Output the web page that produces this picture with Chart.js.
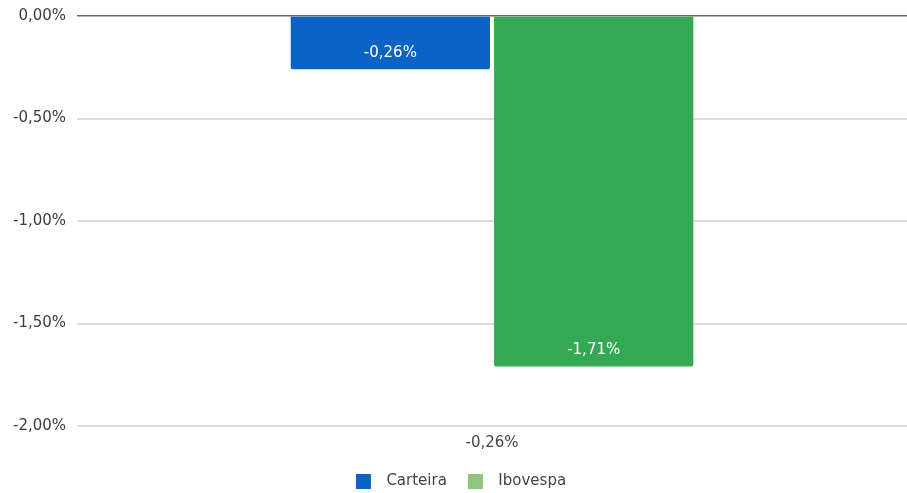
<!DOCTYPE html>
<html>
<head>
<meta charset="utf-8">
<script src="https://cdn.jsdelivr.net/npm/chart.js@4/dist/chart.umd.min.js"></script>
<style>
  body { margin: 0; background: #fff; }
  #wrap { width: 907px; height: 493px; }
</style>
</head>
<body>
<div id="wrap"><canvas id="chart"></canvas></div>
<script>
const categories = ['-0,26%'];
const carteira = [-0.26];
const ibovespa = [-1.71];
const yTicks = [0, -0.5, -1, -1.5, -2];

const fmt = v => v.toFixed(2).replace('.', ',') + '%';
const FONT = '"DejaVu Sans", Arial, sans-serif';

// legend marker: square with some empty room to the left and right
function legendMarker(color) {
  const c = document.createElement('canvas');
  c.width = 36;
  c.height = 15;
  const g = c.getContext('2d');
  g.fillStyle = color;
  g.fillRect(13, 0, 15, 15);
  return c;
}

// labels inside bar ends, white
const barLabels = {
  id: 'barLabels',
  afterDatasetsDraw(chart) {
    const ctx = chart.ctx;
    ctx.save();
    ctx.font = '15px ' + FONT;
    ctx.fillStyle = '#ffffff';
    ctx.textAlign = 'center';
    ctx.textBaseline = 'middle';
    chart.data.datasets.forEach((ds, i) => {
      chart.getDatasetMeta(i).data.forEach((bar, j) => {
        ctx.fillText(fmt(ds.data[j]), bar.x, bar.y - 16);
      });
    });
    ctx.restore();
  }
};

const ctx = document.getElementById('chart').getContext('2d');
new Chart(ctx, {
  type: 'bar',
  data: {
    labels: categories,
    datasets: [
      {
        label: 'Carteira',
        data: carteira,
        backgroundColor: '#0b63c5',
        legendColor: '#0b63c5',
        borderRadius: 2,
        borderSkipped: 'start'
      },
      {
        label: 'Ibovespa',
        data: ibovespa,
        backgroundColor: '#34a853',
        legendColor: '#93c47d',
        borderRadius: 2,
        borderSkipped: 'start'
      }
    ]
  },
  options: {
    responsive: true,
    maintainAspectRatio: false,
    animation: false,
    layout: { padding: { top: 0, right: 0, left: 2, bottom: -6 } },
    datasets: {
      bar: { barPercentage: 0.98, categoryPercentage: 0.49 }
    },
    scales: {
      x: {
        grid: { display: false },
        border: { display: false },
        afterFit: axis => { axis.height += 14; },
        ticks: {
          color: '#444',
          font: { family: FONT, size: 15 },
          padding: 0
        }
      },
      y: {
        min: -2,
        max: 0,
        afterBuildTicks: axis => { axis.ticks = yTicks.map(v => ({ value: v })); },
        afterFit: axis => { axis.paddingTop = 16; },
        border: { display: false },
        grid: {
          drawTicks: false,
          color: c => c.tick.value === 0 ? '#666' : '#dcdcdc',
          lineWidth: c => c.tick.value === 0 ? 1.5 : 2
        },
        ticks: {
          color: '#3c3c3c',
          padding: 11,
          font: { family: FONT, size: 15 },
          callback: v => fmt(v)
        }
      }
    },
    plugins: {
      legend: {
        position: 'bottom',
        labels: {
          usePointStyle: true,
          pointStyleWidth: 36,
          boxHeight: 15,
          padding: 8,
          color: '#444',
          font: { family: FONT, size: 15 },
          generateLabels: chart => chart.data.datasets.map((ds, i) => ({
            text: ds.label,
            fillStyle: ds.legendColor,
            strokeStyle: ds.legendColor,
            pointStyle: legendMarker(ds.legendColor),
            lineWidth: 0,
            fontColor: '#444',
            datasetIndex: i,
            hidden: false
          }))
        }
      },
      tooltip: { enabled: false }
    }
  },
  plugins: [barLabels]
});
</script>
</body>
</html>
